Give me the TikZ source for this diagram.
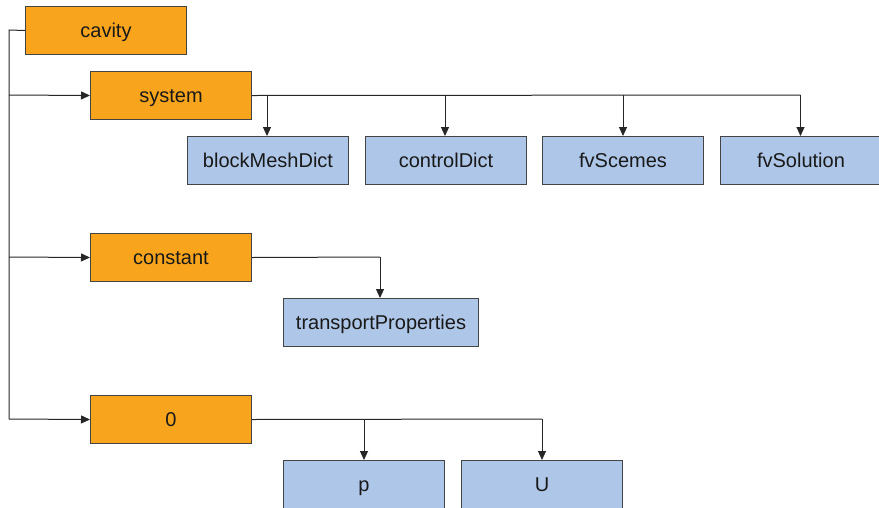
\documentclass[tikz,border=0pt]{standalone}
\usepackage{fontspec}
\setmainfont{Liberation Sans}
\usetikzlibrary{arrows.meta}
\definecolor{dirfill}{HTML}{F8A51D}
\definecolor{filefill}{HTML}{AEC6E7}
\definecolor{boxline}{HTML}{444444}
\tikzset{
  box/.style={draw=boxline, line width=1pt, minimum height=48pt, inner sep=0pt,
    text height=16pt, text depth=3pt,
    font=\fontsize{20}{24}\selectfont, text=black!90, anchor=north west},
  dirbox/.style={box, fill=dirfill, minimum width=161pt},
  filebox/.style={box, fill=filefill, minimum width=161pt},
  conn/.style={draw=black!85, line width=1pt},
  arr/.style={conn, -{Triangle[length=9pt, width=8pt]}}
}
\begin{document}
\begin{tikzpicture}[x=1pt, y=-1pt]
\useasboundingbox (0,0) rectangle (879,507);
\clip (0,0) rectangle (879,507);
\node[dirbox] (cavity) at (25,6) {cavity};
\node[dirbox] (system) at (90,71) {system};
\node[filebox] (bmd) at (187,136) {blockMeshDict};
\node[filebox] (cd) at (365,136) {controlDict};
\node[filebox] (fvs) at (542,136) {fvScemes};
\node[filebox] (fvsol) at (720,136) {fvSolution};
\node[dirbox] (constant) at (90,233) {constant};
\node[filebox, minimum width=195pt] (tp) at (283,298) {transportProperties};
\node[dirbox] (zero) at (90,395) {0};
\node[filebox] (p) at (283,460) {p};
\node[filebox] (U) at (461,460) {U};

\coordinate (lt) at (9,30);
\coordinate (lb) at (9,419);
\draw[conn] (cavity.west) -- (lt) -- (lb);
\draw[arr] (9,95) -- (system.west);
\draw[arr] (9,257) -- (constant.west);
\draw[arr] (lb) -- (zero.west);

\coordinate (sr) at (800.5,95);
\draw[conn] (system.east) -- (sr);
\draw[arr] (267,95) -- (267,136);
\draw[arr] (445,95) -- (445,136);
\draw[arr] (623,95) -- (623,136);
\draw[arr] (sr) -- (800.5,136);

\coordinate (cr) at (380,257);
\draw[conn] (constant.east) -- (cr);
\draw[arr] (cr) -- (tp.north -| cr);

\coordinate (zr) at (542,419);
\draw[conn] (zero.east) -- (zr);
\draw[arr] (364,419) -- (364,460);
\draw[arr] (zr) -- (542,460);
\end{tikzpicture}
\end{document}
